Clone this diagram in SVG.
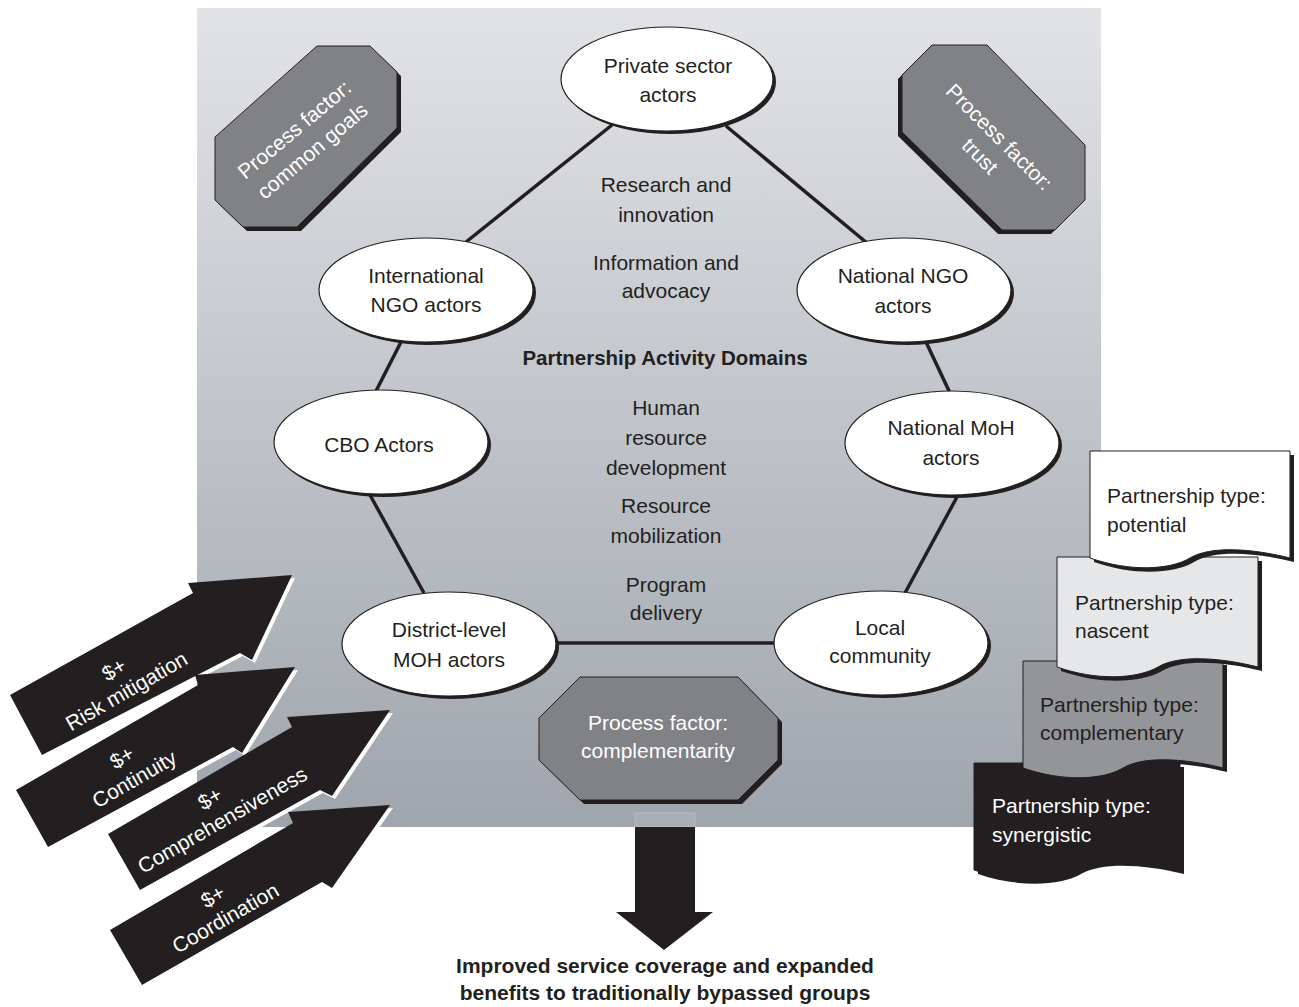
<svg xmlns="http://www.w3.org/2000/svg" width="1299" height="1007" viewBox="0 0 1299 1007">
<style>
text{font-family:"Liberation Sans",Arial,sans-serif;font-size:21px;fill:#231f20}
.c{text-anchor:middle}
.b{font-weight:bold}
.w{fill:#ffffff}
.lbl{font-size:20.5px}
.edge{stroke:#231f20;stroke-width:3.5;fill:none}
.ell{fill:#ffffff;stroke:#231f20;stroke-width:1.2}
.sh{fill:#231f20}
.oct{fill:#818285;stroke:#231f20;stroke-width:1}
.arr{fill:#231f20}
.arrsh{fill:#ffffff}
.doc{stroke:#231f20;stroke-width:1}
</style>
<defs>
<linearGradient id="bg" x1="0" y1="0" x2="0" y2="1">
<stop offset="0" stop-color="#e2e3e6"/>
<stop offset="1" stop-color="#9fa5ad"/>
</linearGradient>
</defs>
<rect width="1299" height="1007" fill="#ffffff"/>
<g id="panel">
<rect x="197" y="8" width="904" height="819" fill="url(#bg)"/>
</g>
<g id="connectors">
<line class="edge" x1="612" y1="125" x2="466" y2="242"/>
<line class="edge" x1="726" y1="126" x2="867" y2="243"/>
<line class="edge" x1="401" y1="342" x2="376" y2="391"/>
<line class="edge" x1="370" y1="495" x2="424" y2="593"/>
<line class="edge" x1="552" y1="643" x2="778" y2="643"/>
<line class="edge" x1="926" y1="342" x2="950" y2="393"/>
<line class="edge" x1="957" y1="497" x2="905" y2="593"/>
</g>
<g id="node-private">
<ellipse class="sh" cx="670" cy="82" rx="106" ry="52"/>
<ellipse class="ell" cx="667" cy="79" rx="106" ry="52"/>
<text class="c" x="668" y="73">Private sector</text>
<text class="c" x="668" y="102">actors</text>
</g>
<g id="node-intl-ngo">
<ellipse class="sh" cx="429" cy="293" rx="107" ry="52"/>
<ellipse class="ell" cx="426" cy="290" rx="107" ry="52"/>
<text class="c" x="426" y="283">International</text>
<text class="c" x="426" y="312">NGO actors</text>
</g>
<g id="node-national-ngo">
<ellipse class="sh" cx="907" cy="293" rx="107" ry="52"/>
<ellipse class="ell" cx="904" cy="290" rx="107" ry="52"/>
<text class="c" x="903" y="283">National NGO</text>
<text class="c" x="903" y="313">actors</text>
</g>
<g id="node-cbo">
<ellipse class="sh" cx="384" cy="445" rx="107" ry="52"/>
<ellipse class="ell" cx="381" cy="442" rx="107" ry="52"/>
<text class="c" x="379" y="452">CBO Actors</text>
</g>
<g id="node-national-moh">
<ellipse class="sh" cx="955" cy="446" rx="107" ry="52"/>
<ellipse class="ell" cx="952" cy="443" rx="107" ry="52"/>
<text class="c" x="951" y="435">National MoH</text>
<text class="c" x="951" y="465">actors</text>
</g>
<g id="node-district">
<ellipse class="sh" cx="452" cy="647" rx="107" ry="52"/>
<ellipse class="ell" cx="449" cy="644" rx="107" ry="52"/>
<text class="c" x="449" y="637">District-level</text>
<text class="c" x="449" y="667">MOH actors</text>
</g>
<g id="node-local">
<ellipse class="sh" cx="884" cy="646" rx="107" ry="52"/>
<ellipse class="ell" cx="881" cy="643" rx="107" ry="52"/>
<text class="c" x="880" y="635">Local</text>
<text class="c" x="880" y="663">community</text>
</g>
<g id="domains">
<text class="c" x="666" y="192">Research and</text>
<text class="c" x="666" y="222">innovation</text>
<text class="c" x="666" y="270">Information and</text>
<text class="c" x="666" y="298">advocacy</text>
<text class="c b lbl" x="665" y="365">Partnership Activity Domains</text>
<text class="c" x="666" y="415">Human</text>
<text class="c" x="666" y="445">resource</text>
<text class="c" x="666" y="475">development</text>
<text class="c" x="666" y="513">Resource</text>
<text class="c" x="666" y="543">mobilization</text>
<text class="c" x="666" y="592">Program</text>
<text class="c" x="666" y="620">delivery</text>
</g>
<g id="pf-common-goals">
<polygon class="sh" transform="translate(4,4)" points="215,137 317,46 370,46 397,72 397,128 297,227 243,227 215,200"/>
<polygon class="oct" points="215,137 317,46 370,46 397,72 397,128 297,227 243,227 215,200"/>
<g transform="translate(299,135) rotate(-40)">
<text class="c w" x="0" y="0">Process factor:</text>
<text class="c w" x="0" y="28">common goals</text>
</g>
</g>
<g id="pf-trust">
<polygon class="sh" transform="translate(-4,4)" points="902,75 932,45 987,45 1085,145 1085,200 1055,230 1002,230 902,132"/>
<polygon class="oct" points="902,75 932,45 987,45 1085,145 1085,200 1055,230 1002,230 902,132"/>
<g transform="translate(994,142) rotate(45)">
<text class="c w" x="0" y="0">Process factor:</text>
<text class="c w" x="0" y="27">trust</text>
</g>
</g>
<g id="pf-complementarity">
<polygon class="sh" transform="translate(4,4)" points="539,718 580,677 738,677 778,718 778,760 738,800 580,800 539,760"/>
<polygon class="oct" points="539,718 580,677 738,677 778,718 778,760 738,800 580,800 539,760"/>
<text class="c w" x="658" y="730">Process factor:</text>
<text class="c w" x="658" y="758">complementarity</text>
</g>
<g id="outcome">
<rect x="635" y="813" width="60" height="14" fill="#a9aeb5" stroke="#b8bcc2" stroke-width="1"/>
<polygon class="arr" points="635,827 695,827 695,912 713,912 664,950 616,912 635,912"/>
<text class="c b" x="665" y="973">Improved service coverage and expanded</text>
<text class="c b" x="665" y="1000">benefits to traditionally bypassed groups</text>
</g>
<g id="arrow-risk">
<polygon class="arrsh" transform="translate(3,3)" points="10,695 193,593 188,583 292,575 252,660 240,653 42,755"/>
<polygon class="arr" points="10,695 193,593 188,583 292,575 252,660 240,653 42,755"/>
<g transform="translate(120,680) rotate(-30)">
<text class="c w" x="0" y="-5">$+</text>
<text class="c w" x="0" y="20">Risk mitigation</text>
</g>
</g>
<g id="arrow-continuity">
<polygon class="arrsh" transform="translate(3,3)" points="16,790 198,685 195,675 295,667 242,753 233,747 48,847"/>
<polygon class="arr" points="16,790 198,685 195,675 295,667 242,753 233,747 48,847"/>
<g transform="translate(128,768) rotate(-30)">
<text class="c w" x="0" y="-5">$+</text>
<text class="c w" x="0" y="20">Continuity</text>
</g>
</g>
<g id="arrow-comprehensiveness">
<polygon class="arrsh" transform="translate(3,3)" points="108,834 292,727 287,717 390,710 332,796 320,790 140,890"/>
<polygon class="arr" points="108,834 292,727 287,717 390,710 332,796 320,790 140,890"/>
<g transform="translate(216,809) rotate(-30)">
<text class="c w" x="0" y="-5">$+</text>
<text class="c w" x="0" y="20">Comprehensiveness</text>
</g>
</g>
<g id="arrow-coordination">
<polygon class="arrsh" transform="translate(3,3)" points="110,930 293,823 288,812 390,805 332,888 322,882 142,985"/>
<polygon class="arr" points="110,930 293,823 288,812 390,805 332,888 322,882 142,985"/>
<g transform="translate(219,907) rotate(-30)">
<text class="c w" x="0" y="-5">$+</text>
<text class="c w" x="0" y="20">Coordination</text>
</g>
</g>
<g id="type-synergistic">
<path class="sh" transform="translate(4,4)" d="M974 763 H1180 V870 C1139 860 1098 858 1077 870 C1056 882 1015 884 974 870 Z"/>
<path class="doc" fill="#231f20" d="M974 763 H1180 V870 C1139 860 1098 858 1077 870 C1056 882 1015 884 974 870 Z"/>
<text class="w" x="992" y="813">Partnership type:</text>
<text class="w" x="992" y="842">synergistic</text>
</g>
<g id="type-complementary">
<path class="sh" transform="translate(4,4)" d="M1023 661 H1223 V768 C1183 758 1143 756 1123 768 C1103 780 1063 782 1023 768 Z"/>
<path class="doc" fill="#939598" d="M1023 661 H1223 V768 C1183 758 1143 756 1123 768 C1103 780 1063 782 1023 768 Z"/>
<text x="1040" y="712">Partnership type:</text>
<text x="1040" y="740">complementary</text>
</g>
<g id="type-nascent">
<path class="sh" transform="translate(4,4)" d="M1057 557 H1258 V667 C1218 657 1178 655 1158 667 C1137 679 1097 681 1057 667 Z"/>
<path class="doc" fill="#e6e7e8" d="M1057 557 H1258 V667 C1218 657 1178 655 1158 667 C1137 679 1097 681 1057 667 Z"/>
<text x="1075" y="610">Partnership type:</text>
<text x="1075" y="638">nascent</text>
</g>
<g id="type-potential">
<path class="sh" transform="translate(4,4)" d="M1090 451 H1290 V558 C1250 548 1210 546 1190 558 C1170 570 1130 572 1090 558 Z"/>
<path class="doc" fill="#ffffff" d="M1090 451 H1290 V558 C1250 548 1210 546 1190 558 C1170 570 1130 572 1090 558 Z"/>
<text x="1107" y="503">Partnership type:</text>
<text x="1107" y="532">potential</text>
</g>
</svg>
